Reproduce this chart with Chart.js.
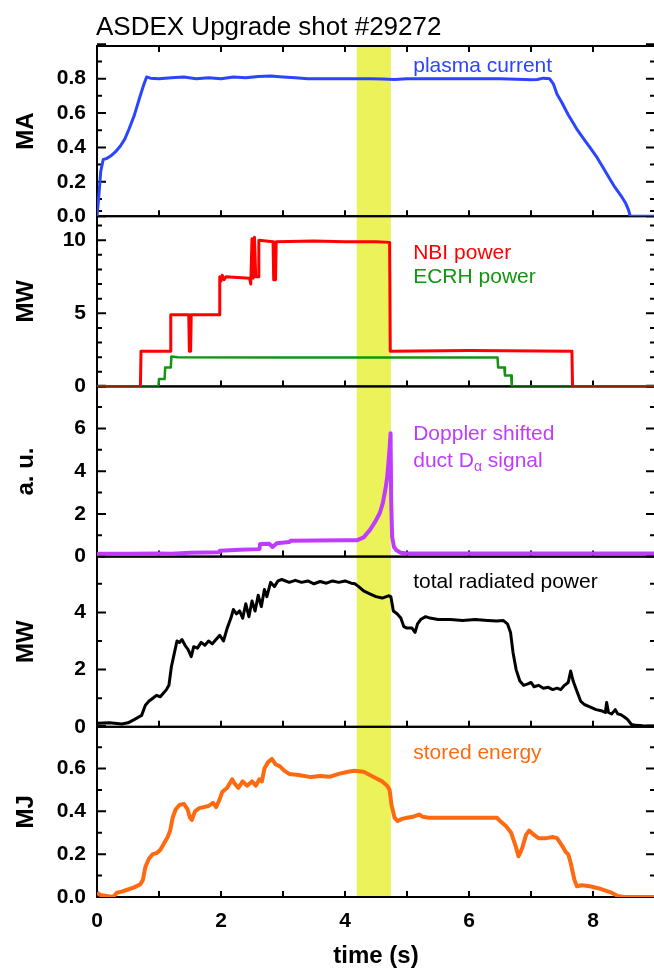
<!DOCTYPE html>
<html>
<head>
<meta charset="utf-8">
<script src="https://cdn.jsdelivr.net/npm/chart.js@4.4.1/dist/chart.umd.min.js"></script>
<style>
  html, body { margin: 0; padding: 0; background: #fff; overflow: hidden; }
  canvas { display: block; }
</style>
</head>
<body>
<canvas id="shot" width="656" height="971"></canvas>
<script>
// time window highlighted in yellow (s)
const bandTimes = [4.19, 4.74];
const xTicks = [0, 1, 2, 3, 4, 5, 6, 7, 8, 9];

// [time (s), value] pairs
const plasmaCurrent = [
  [0, 0], [0.03, 0.12], [0.06, 0.26], [0.1, 0.33], [0.15, 0.335], [0.22, 0.35], [0.3, 0.375],
  [0.38, 0.41], [0.45, 0.45], [0.52, 0.51], [0.6, 0.585], [0.68, 0.68], [0.75, 0.76], [0.8, 0.81],
  [0.86, 0.803], [1.0, 0.80], [1.2, 0.806], [1.4, 0.81], [1.6, 0.80], [1.8, 0.806], [2.0, 0.80],
  [2.2, 0.81], [2.4, 0.805], [2.6, 0.812], [2.8, 0.815], [3.0, 0.81], [3.2, 0.805], [3.4, 0.80],
  [3.6, 0.80], [3.8, 0.80], [4.0, 0.80], [4.2, 0.80], [4.4, 0.80], [4.6, 0.798], [4.8, 0.795],
  [5.0, 0.80], [5.5, 0.80], [6.0, 0.80], [6.5, 0.80], [6.9, 0.795], [7.0, 0.793], [7.1, 0.795],
  [7.2, 0.803], [7.3, 0.80], [7.36, 0.77], [7.42, 0.71], [7.5, 0.66], [7.6, 0.59], [7.7, 0.53],
  [7.75, 0.50], [7.85, 0.45], [7.95, 0.40], [8.05, 0.35], [8.15, 0.29], [8.25, 0.23], [8.35, 0.17],
  [8.45, 0.12], [8.52, 0.08], [8.57, 0.04], [8.6, 0], [9, 0]
];

const nbiPower = [
  [0, 0], [0.70, 0], [0.71, 2.4], [1.18, 2.4], [1.19, 4.9], [1.48, 4.9], [1.49, 2.4], [1.51, 2.4],
  [1.52, 4.9], [1.97, 4.9], [1.98, 7.5], [2.0, 7.2], [2.02, 7.6], [2.05, 7.3], [2.08, 7.5],
  [2.46, 7.4], [2.48, 7.0], [2.50, 10.1], [2.52, 7.4], [2.54, 10.2], [2.56, 7.5], [2.60, 7.5],
  [2.61, 10.0], [2.84, 9.9], [2.85, 7.3], [2.88, 7.3], [2.89, 9.9], [3.5, 9.95], [4.0, 9.9],
  [4.5, 9.9], [4.72, 9.85], [4.73, 2.4], [6.0, 2.45], [7.66, 2.4], [7.67, 0], [9, 0]
];

const ecrhPower = [
  [0, 0], [0.99, 0], [1.0, 0.5], [1.09, 0.5], [1.10, 1.3], [1.19, 1.3], [1.20, 2.05], [1.3, 2.0],
  [3, 1.98], [5, 1.98], [6.46, 1.98], [6.47, 1.3], [6.57, 1.3], [6.58, 0.75], [6.68, 0.75],
  [6.69, 0], [9, 0]
];

const ductDalpha = [
  [0, 0.13], [0.5, 0.13], [1.0, 0.14], [1.2, 0.13], [1.5, 0.18], [1.97, 0.2], [1.98, 0.27],
  [2.3, 0.32], [2.62, 0.35], [2.63, 0.59], [2.78, 0.6], [2.83, 0.45], [2.9, 0.62], [3.1, 0.68],
  [3.12, 0.74], [3.5, 0.75], [4.0, 0.76], [4.2, 0.77], [4.3, 0.9], [4.4, 1.24], [4.48, 1.6],
  [4.56, 2.03], [4.61, 2.5], [4.65, 3.12], [4.68, 3.7], [4.70, 4.37], [4.72, 5.1], [4.735, 5.78],
  [4.745, 2.6], [4.76, 0.93], [4.79, 0.45], [4.83, 0.3], [4.9, 0.18], [5.0, 0.15], [9, 0.15]
];

const radiatedPower = [
  [0, 0.12], [0.2, 0.14], [0.4, 0.1], [0.5, 0.14], [0.6, 0.25], [0.68, 0.35], [0.72, 0.4],
  [0.78, 0.75], [0.84, 0.9], [0.9, 1.0], [0.96, 1.1], [1.02, 1.05], [1.08, 1.2], [1.12, 1.3],
  [1.16, 1.45], [1.2, 2.1], [1.25, 2.6], [1.29, 3.0], [1.33, 2.95], [1.37, 3.05], [1.42, 2.85],
  [1.47, 2.7], [1.52, 2.45], [1.56, 2.8], [1.62, 2.75], [1.68, 2.95], [1.74, 2.85], [1.8, 3.0],
  [1.86, 2.9], [1.92, 3.05], [1.98, 3.2], [2.04, 3.0], [2.1, 3.45], [2.16, 3.8], [2.2, 4.1],
  [2.25, 3.95], [2.3, 4.05], [2.35, 3.8], [2.4, 4.3], [2.45, 3.85], [2.5, 4.4], [2.55, 4.05],
  [2.6, 4.6], [2.65, 4.2], [2.7, 4.8], [2.74, 4.55], [2.8, 5.05], [2.86, 4.9], [2.92, 5.1],
  [2.98, 5.15], [3.1, 5.05], [3.2, 5.12], [3.3, 5.05], [3.4, 5.1], [3.5, 5.0], [3.6, 5.08],
  [3.7, 5.02], [3.8, 5.1], [3.9, 5.05], [4.0, 5.1], [4.1, 5.02], [4.16, 5.0], [4.22, 4.9],
  [4.3, 4.75], [4.4, 4.65], [4.5, 4.55], [4.6, 4.5], [4.7, 4.58], [4.74, 4.55], [4.78, 4.05],
  [4.84, 3.95], [4.9, 3.8], [4.95, 3.5], [5.0, 3.45], [5.08, 3.45], [5.13, 3.3], [5.17, 3.6],
  [5.22, 3.75], [5.3, 3.85], [5.37, 3.8], [5.5, 3.75], [5.7, 3.75], [5.9, 3.72], [6.1, 3.75],
  [6.3, 3.72], [6.45, 3.7], [6.55, 3.72], [6.62, 3.6], [6.67, 3.3], [6.71, 2.6], [6.76, 2.0],
  [6.82, 1.6], [6.88, 1.45], [6.95, 1.5], [7.0, 1.55], [7.05, 1.4], [7.12, 1.45], [7.2, 1.35],
  [7.28, 1.38], [7.35, 1.3], [7.42, 1.35], [7.48, 1.3], [7.54, 1.45], [7.6, 1.55], [7.64, 1.95],
  [7.68, 1.6], [7.73, 1.3], [7.8, 0.9], [7.86, 0.78], [7.95, 0.7], [8.05, 0.6], [8.15, 0.55],
  [8.2, 0.5], [8.22, 0.85], [8.25, 0.5], [8.3, 0.45], [8.36, 0.6], [8.4, 0.45], [8.45, 0.42],
  [8.5, 0.35], [8.56, 0.25], [8.62, 0.08], [8.7, 0.05], [8.8, 0.04], [9.0, 0.03]
];

const storedEnergy = [
  [0, 0.02], [0.05, 0.01], [0.15, 0.005], [0.26, 0.0], [0.32, 0.02], [0.4, 0.025], [0.5, 0.035],
  [0.6, 0.045], [0.7, 0.06], [0.74, 0.08], [0.78, 0.14], [0.84, 0.18], [0.9, 0.2], [0.96, 0.205],
  [1.02, 0.22], [1.08, 0.25], [1.14, 0.28], [1.18, 0.31], [1.22, 0.37], [1.27, 0.41], [1.33, 0.43],
  [1.4, 0.435], [1.46, 0.41], [1.5, 0.37], [1.53, 0.36], [1.58, 0.4], [1.65, 0.415], [1.72, 0.42],
  [1.8, 0.425], [1.87, 0.44], [1.92, 0.42], [1.97, 0.45], [2.02, 0.49], [2.1, 0.51], [2.18, 0.55],
  [2.22, 0.53], [2.28, 0.51], [2.35, 0.54], [2.42, 0.52], [2.5, 0.54], [2.56, 0.52], [2.62, 0.55],
  [2.66, 0.54], [2.7, 0.6], [2.76, 0.63], [2.82, 0.645], [2.88, 0.62], [2.95, 0.61], [3.02, 0.59],
  [3.1, 0.575], [3.25, 0.57], [3.45, 0.56], [3.6, 0.565], [3.76, 0.562], [3.9, 0.575], [4.05, 0.585],
  [4.15, 0.59], [4.3, 0.585], [4.4, 0.57], [4.5, 0.555], [4.6, 0.54], [4.68, 0.52], [4.72, 0.5],
  [4.75, 0.43], [4.8, 0.37], [4.85, 0.355], [4.92, 0.365], [5.0, 0.37], [5.1, 0.375], [5.2, 0.385],
  [5.25, 0.375], [5.35, 0.37], [5.6, 0.37], [5.9, 0.37], [6.2, 0.37], [6.45, 0.37], [6.52, 0.35],
  [6.6, 0.33], [6.68, 0.30], [6.75, 0.24], [6.8, 0.19], [6.86, 0.23], [6.92, 0.29], [6.97, 0.31],
  [7.05, 0.29], [7.12, 0.275], [7.25, 0.275], [7.35, 0.28], [7.42, 0.275], [7.5, 0.24], [7.56, 0.21],
  [7.6, 0.2], [7.64, 0.16], [7.7, 0.08], [7.74, 0.05], [7.82, 0.055], [7.95, 0.05], [8.1, 0.04],
  [8.2, 0.03], [8.3, 0.02], [8.4, 0.005], [8.5, 0], [9, 0]
];

const FONT = "'Liberation Sans', Arial, Helvetica, sans-serif";
Chart.defaults.font.family = FONT;
Chart.defaults.color = '#000';

// one panel per stacked y axis, top to bottom
const panels = [
  { id: 'yIp',  max: 0.99, major: 0.2, minor: 0.1, digits: 1, unit: 'MA' },
  { id: 'yP',   max: 11.64, major: 5, minor: 1, digits: 0, unit: 'MW' },
  { id: 'yD',   max: 7.97, major: 2, minor: 1, digits: 0, unit: 'a. u.' },
  { id: 'yRad', max: 5.95, major: 2, minor: 1, digits: 0, unit: 'MW' },
  { id: 'yW',   max: 0.795, major: 0.2, minor: 0.1, digits: 1, unit: 'MJ' }
];

const labels = [
  { axis: 'yIp',  t: 5.1, v: 0.875, text: 'plasma current', color: '#2a45ff' },
  { axis: 'yP',   t: 5.1, v: 9.1,   text: 'NBI power', color: '#ff0000' },
  { axis: 'yP',   t: 5.1, v: 7.5,   text: 'ECRH power', color: '#139513' },
  { axis: 'yD',   t: 5.1, v: 5.72,  text: 'Doppler shifted', color: '#bf3cff' },
  { axis: 'yD',   t: 5.1, v: 4.45,  text: 'duct D|α| signal', color: '#bf3cff' },
  { axis: 'yRad', t: 5.1, v: 5.05,  text: 'total radiated power', color: '#000000' },
  { axis: 'yW',   t: 5.1, v: 0.67,  text: 'stored energy', color: '#ff6a10' }
];

const toXY = (arr) => arr.map((p) => ({ x: p[0], y: p[1] }));

const line = (data, axis, color, width) => ({
  data: toXY(data),
  yAxisID: axis,
  borderColor: color,
  borderWidth: width,
  pointRadius: 0,
  tension: 0,
  fill: false,
  borderJoinStyle: 'round'
});

const scales = {
  x: {
    type: 'linear',
    position: 'bottom',
    min: 0,
    max: 9,
    grid: { display: false, drawTicks: false },
    border: { display: false },
    ticks: { stepSize: 2, includeBounds: false, padding: 12, font: { size: 21, weight: 'bold' } },
    title: { display: true, text: 'time (s)', font: { size: 24, weight: 'bold' }, padding: { top: 4, bottom: 0 } },
    afterFit: (s) => { s.height = 74; s.paddingLeft = 0; s.paddingRight = 0; }
  }
};
panels.forEach((p, i) => {
  scales[p.id] = {
    type: 'linear',
    position: 'left',
    stack: 'shot',
    stackWeight: 1,
    weight: 10 - i,
    min: 0,
    max: p.max,
    grid: { display: false, drawTicks: false },
    border: { display: false },
    ticks: {
      stepSize: p.major,
      includeBounds: false,
      autoSkip: false,
      padding: 11,
      font: { size: 21, weight: 'bold' },
      callback: (v) => Number(v).toFixed(p.digits)
    },
    title: { display: true, text: p.unit, font: { size: 24, weight: 'bold' }, padding: { top: 12, bottom: 0 } },
    afterFit: (s) => { s.width = 97; s.paddingTop = 0; s.paddingBottom = 0; }
  };
});

const framePlugin = {
  id: 'frame',
  beforeDatasetsDraw(chart) {
    const { ctx, chartArea: a } = chart;
    const x = chart.scales.x;
    ctx.save();
    const x0 = x.getPixelForValue(bandTimes[0]);
    const x1 = x.getPixelForValue(bandTimes[1]);
    ctx.fillStyle = '#ebf25a';
    ctx.fillRect(x0, a.top, x1 - x0, a.bottom - a.top);

    ctx.strokeStyle = '#000';
    ctx.lineWidth = 2;
    panels.forEach((p, i) => {
      const s = chart.scales[p.id];
      ctx.strokeRect(a.left, s.top, a.right - a.left, s.bottom - s.top);
      ctx.beginPath();
      const n = Math.round(p.max / p.minor + 1e-6);
      for (let k = 0; k <= n; k++) {
        const v = k * p.minor;
        const r = v / p.major;
        const len = Math.abs(r - Math.round(r)) < 1e-6 ? 9 : 5;
        const y = s.getPixelForValue(v);
        ctx.moveTo(a.left, y); ctx.lineTo(a.left + len, y);
        ctx.moveTo(a.right, y); ctx.lineTo(a.right - len, y);
      }
      xTicks.forEach((t) => {
        const px = x.getPixelForValue(t);
        ctx.moveTo(px, s.bottom); ctx.lineTo(px, s.bottom - 6);
        if (i === 0) { ctx.moveTo(px, s.top); ctx.lineTo(px, s.top + 6); }
      });
      ctx.stroke();
    });
    ctx.restore();
  },
  afterDraw(chart) {
    const { ctx } = chart;
    const x = chart.scales.x;
    ctx.save();
    ctx.fillStyle = '#000';
    ctx.font = '26px ' + FONT;
    ctx.textBaseline = 'alphabetic';
    ctx.fillText('ASDEX Upgrade shot #29272', 96, 35);

    ctx.textBaseline = 'middle';
    labels.forEach((l) => {
      const px = x.getPixelForValue(l.t);
      const py = chart.scales[l.axis].getPixelForValue(l.v);
      ctx.fillStyle = l.color;
      // parts between | are written as subscript
      let cx = px;
      l.text.split('|').forEach((part, k) => {
        const sub = k % 2 === 1;
        ctx.font = (sub ? '14px ' : '21px ') + FONT;
        ctx.fillText(part, cx, sub ? py + 6 : py);
        cx += ctx.measureText(part).width;
      });
    });
    ctx.restore();
  }
};

new Chart(document.getElementById('shot'), {
  type: 'line',
  data: {
    datasets: [
      line(plasmaCurrent, 'yIp', '#2a45ff', 3),
      line(nbiPower, 'yP', '#ff0000', 3),
      line(ecrhPower, 'yP', '#139513', 2.5),
      line(ductDalpha, 'yD', '#bf3cff', 4),
      line(radiatedPower, 'yRad', '#000000', 3),
      line(storedEnergy, 'yW', '#ff6a10', 4)
    ]
  },
  options: {
    responsive: false,
    animation: false,
    events: [],
    layout: { padding: { top: 46, right: 1, left: 0, bottom: 0 } },
    plugins: { legend: { display: false }, tooltip: { enabled: false } },
    scales: scales
  },
  plugins: [framePlugin]
});
</script>
</body>
</html>
